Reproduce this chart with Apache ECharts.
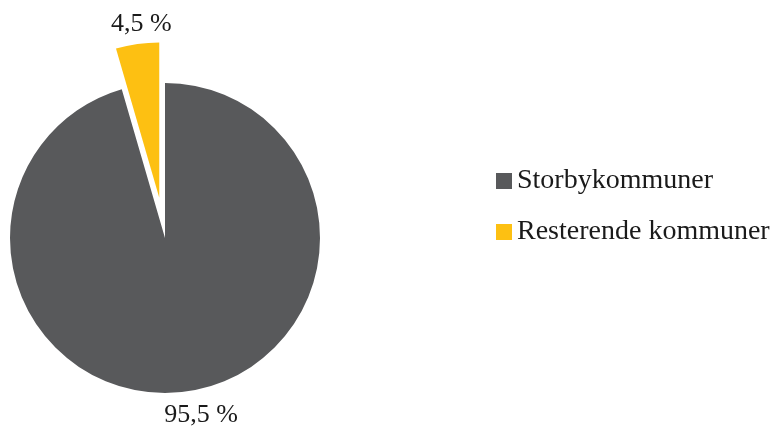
<!DOCTYPE html>
<html>
<head>
<meta charset="utf-8">
<script src="https://cdn.jsdelivr.net/npm/echarts@6/dist/echarts.min.js"></script>
<style>
  html, body { margin: 0; padding: 0; background: #fff; }
  #chart { width: 772px; height: 428px; }
</style>
</head>
<body>
<div id="chart"></div>
<script>
const categories = ['Storbykommuner', 'Resterende kommuner']
const shares = [95.5, 4.5]
const colors = ['#58595b', '#fdc012']

const center = [165, 238]
const explode = 41

// the small slice is pulled out along its middle angle
const total = shares[0] + shares[1]
const midDeg = 90 + (shares[1] / total) * 360 / 2
const midRad = midDeg * Math.PI / 180
const pulledCenter = [center[0] + explode * Math.cos(midRad), center[1] - explode * Math.sin(midRad)]

const chart = echarts.init(document.getElementById('chart'))

const fmt = (p) => String(p.value).replace('.', ',') + ' %'

// each series shows one slice, the other one is left transparent
const makeData = (shown) => categories.map((name, i) => ({
  name: name,
  value: shares[i],
  itemStyle: { color: i === shown ? colors[i] : 'rgba(0,0,0,0)' },
  label: { show: i === shown },
}))

const centerLabel = (dx, dy) => (p) => {
  const pts = p.labelLinePoints
  if (!pts) return {}
  const e = pts[pts.length - 1]
  return { x: e[0] + dx, y: e[1] + dy, align: 'center', verticalAlign: 'middle' }
}

const baseSeries = {
  type: 'pie',
  radius: 155,
  startAngle: 90,
  clockwise: true,
  silent: true,
  emphasis: { disabled: true },
  label: {
    position: 'outside',
    fontFamily: 'Liberation Serif',
    fontSize: 26,
    color: '#1a1a1a',
    formatter: fmt,
  },
  labelLine: { show: false, length: 8, length2: 0 },
}

chart.setOption({
  animation: false,
  textStyle: { fontFamily: 'Liberation Serif' },
  legend: {
    orient: 'vertical',
    left: 491,
    top: 162,
    icon: 'rect',
    itemWidth: 16,
    itemHeight: 16,
    itemGap: 23,
    selectedMode: false,
    textStyle: { fontFamily: 'Liberation Serif', fontSize: 28, color: '#1a1a1a' },
    data: categories.map((name, i) => ({ name: name, itemStyle: { color: colors[i] } })),
  },
  series: [
    Object.assign({}, baseSeries, {
      center: center,
      data: makeData(0),
      labelLayout: centerLabel(13, 16),
    }),
    Object.assign({}, baseSeries, {
      center: pulledCenter,
      data: makeData(1),
      labelLayout: centerLabel(5, -12),
    }),
  ],
})
</script>
</body>
</html>
